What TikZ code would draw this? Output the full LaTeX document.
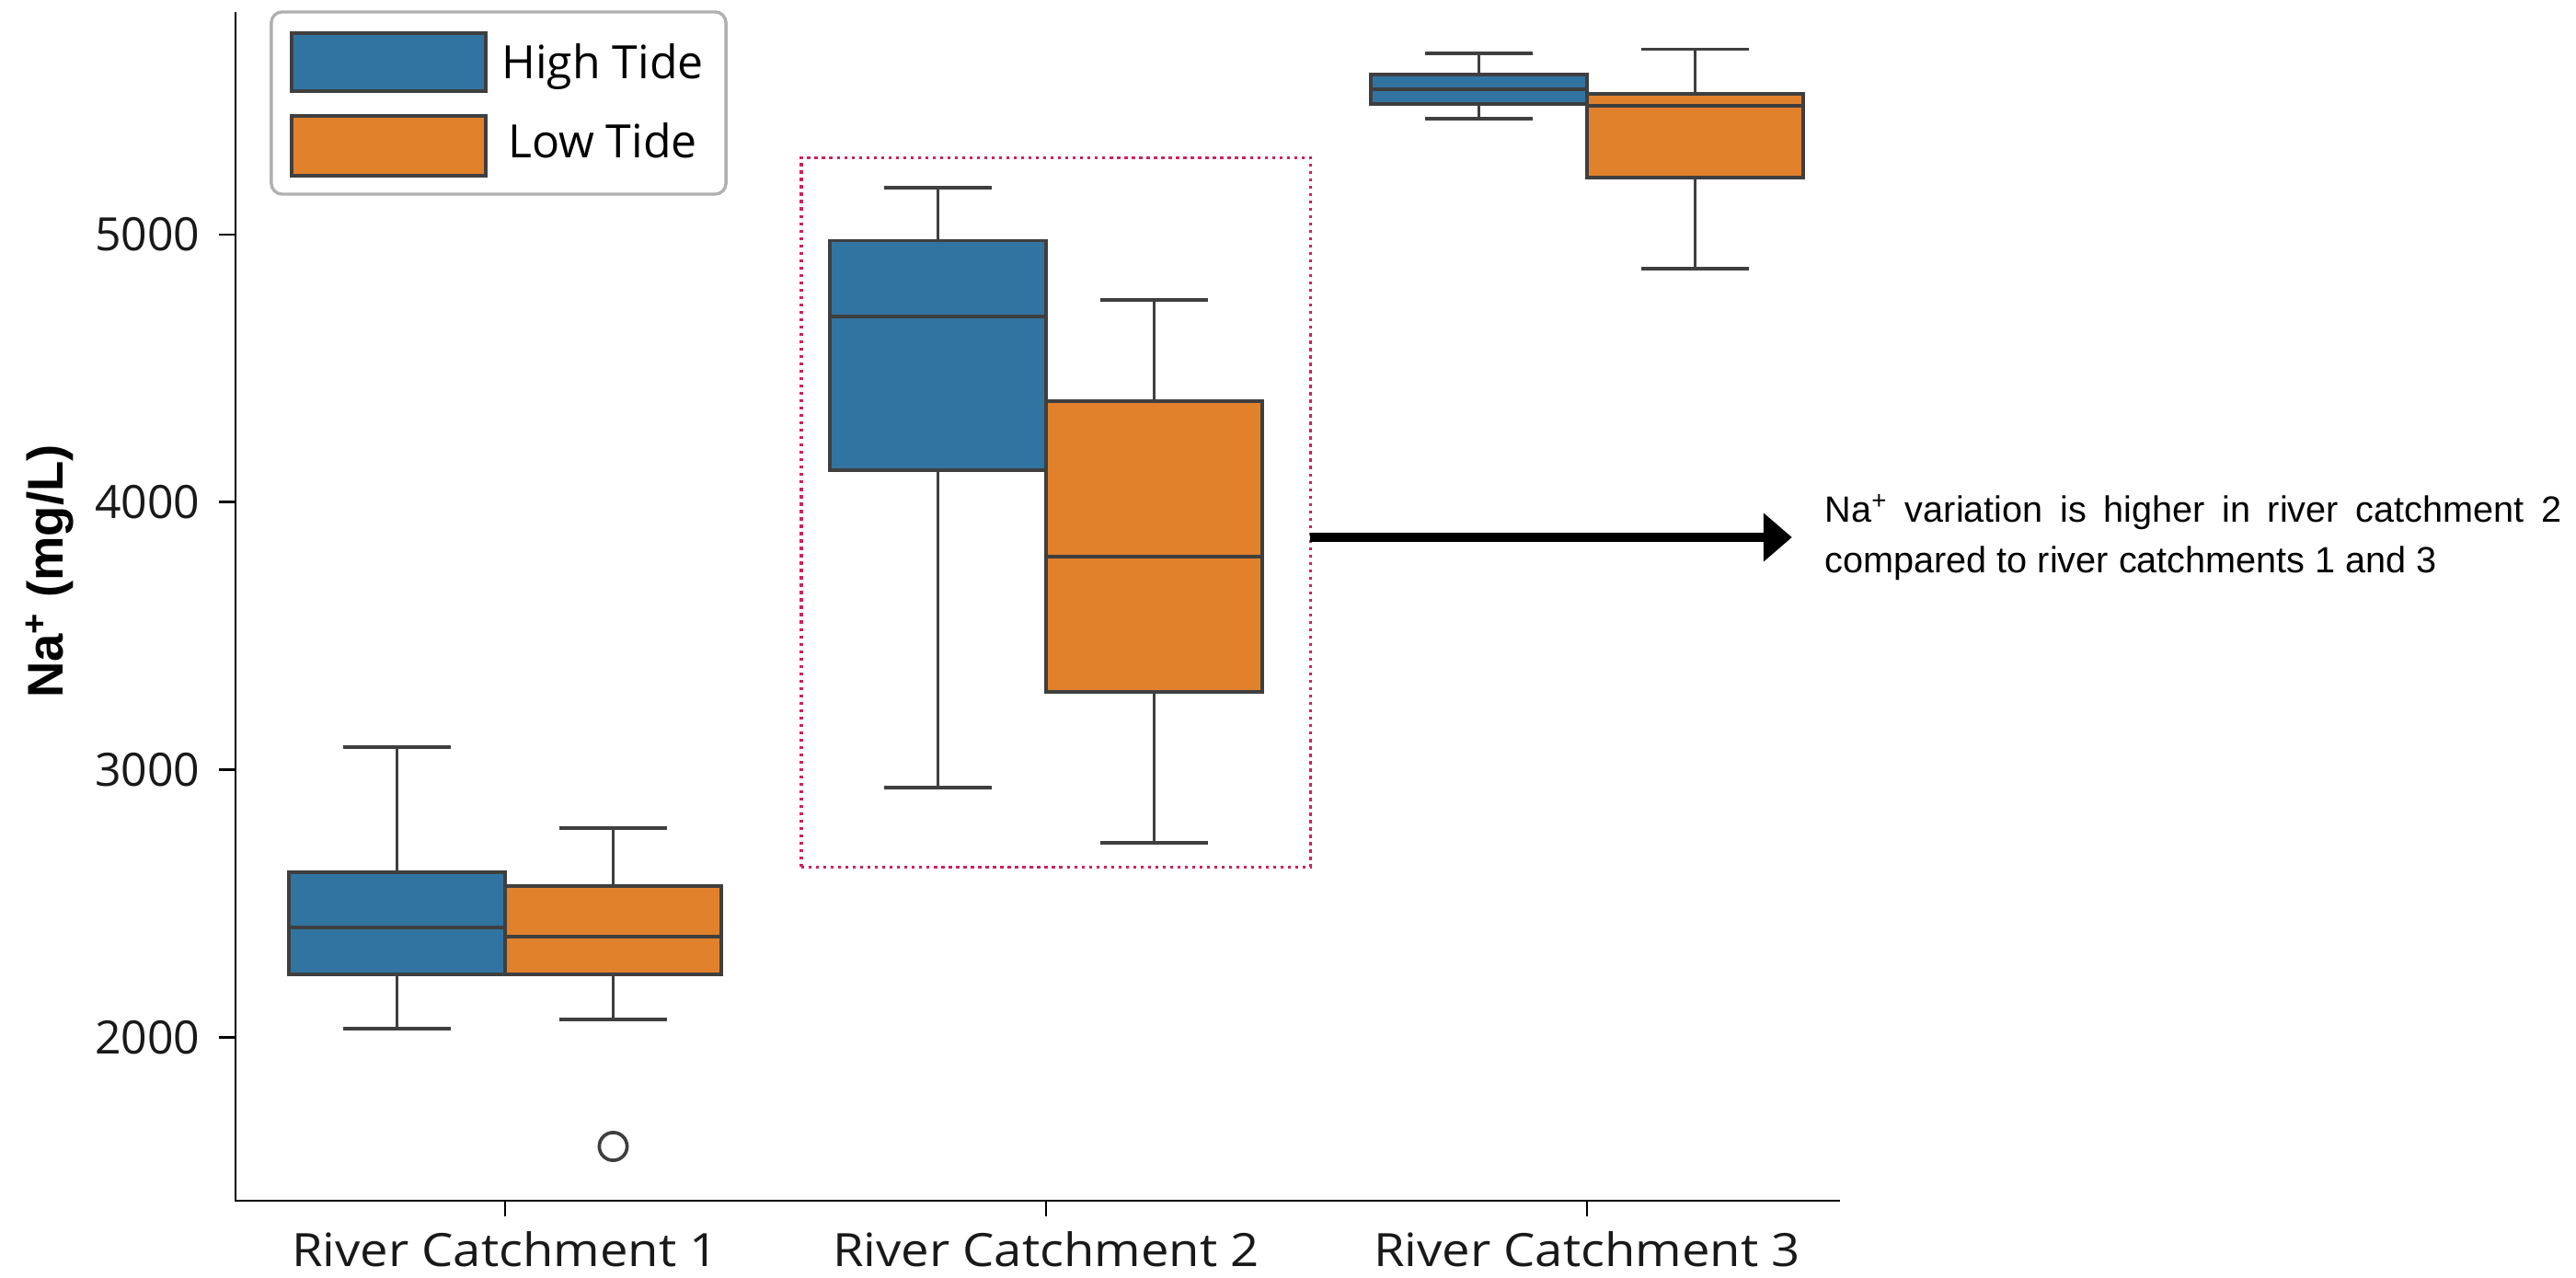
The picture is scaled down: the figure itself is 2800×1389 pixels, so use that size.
\documentclass[tikz,border=0pt]{standalone}
\usepackage{fontspec}
\setmainfont{Open Sans}
\newfontfamily\xlabfont[FakeStretch=1.09]{Open Sans}
\newfontfamily\arialf{Liberation Sans}
\usetikzlibrary{arrows.meta}
\definecolor{sbblue}{HTML}{3274A1}
\definecolor{sborange}{HTML}{E1812C}
\definecolor{edgegray}{HTML}{3F3F3F}
\definecolor{hlred}{RGB}{208,32,96}
\definecolor{leggray}{HTML}{B0B0B0}
\newcommand\bxp[7]{%
  \draw[wline] (#1,#2) -- (#1,#3) (#1,#5) -- (#1,#6);
  \draw[wline] (#1-58.8,#2) -- (#1+58.8,#2) (#1-58.8,#6) -- (#1+58.8,#6);
  \filldraw[wline, fill=#7] (#1-117.5,#3) rectangle (#1+117.5,#5);
  \draw[wline] (#1-117.5,#4) -- (#1+117.5,#4);
}
\begin{document}
\begin{tikzpicture}[x=0.01cm,y=-0.01cm,
  wline/.style={draw=edgegray, line width=1.05pt},
  axisline/.style={draw=black, line width=0.8pt},
  ticklab/.style={inner sep=0pt, font=\fontsize{14.2}{17}\selectfont, text=black!90},
  xlab/.style={inner sep=0pt, font=\xlabfont\fontsize{14.2}{17}\selectfont, text=black!90},
  legpatch/.style={draw=edgegray, line width=1.05pt},
]
\useasboundingbox[fill=white] (0,0) rectangle (2800,1389);

% highlight box
\node[draw=hlred, line width=0.95pt, dash pattern=on 0.95pt off 1.33pt,
      minimum width=5.53cm, minimum height=7.71cm, inner sep=0pt, outer sep=0pt]
      (hl) at (1147.5,557) {};

% boxes
\bxp{431.5}{812}{948}{1008}{1059}{1118}{sbblue}
\bxp{666.5}{900}{963}{1018}{1059}{1108}{sborange}
\draw[wline] (666.5,1246) circle[radius=4.3pt];
\bxp{1019.5}{204}{261.5}{344}{511}{856}{sbblue}
\bxp{1254.5}{326}{436}{605}{752}{916}{sborange}
\bxp{1607.5}{58}{81}{97}{113}{129}{sbblue}
\bxp{1842.5}{53.5}{102}{115}{193}{292}{sborange}

% axes
\draw[axisline] (256,13) -- (256,1305) -- (2000,1305);
\foreach \yy in {255,545.7,836.7,1127.7} \draw[axisline] (238,\yy) -- (256,\yy);
\foreach \xx in {549,1137,1725} \draw[axisline] (\xx,1305) -- (\xx,1322);
\node[ticklab, anchor=east] (y5) at (218,255) {5000};
\node[ticklab, anchor=east] (y4) at (218,545.7) {4000};
\node[ticklab, anchor=east] (y3) at (218,836.7) {3000};
\node[ticklab, anchor=east] (y2) at (218,1127.7) {2000};
\node[xlab, anchor=base] (x1) at (549,1376) {River Catchment 1};
\node[xlab, anchor=base] (x2) at (1137,1376) {River Catchment 2};
\node[xlab, anchor=base] (x3) at (1725,1376) {River Catchment 3};
\node[rotate=90, inner sep=0pt, font=\arialf\bfseries\fontsize{15.5}{18}\selectfont]
  (ylab) at (54,621) {Na\textsuperscript{+} (mg/L)};

% legend
\node[draw=leggray, line width=0.95pt, fill=white, rounded corners=3.4pt,
      minimum width=4.94cm, minimum height=1.98cm, inner sep=0pt] (leg) at (542,112) {};
\filldraw[legpatch, fill=sbblue] (317,36) rectangle (528,99);
\filldraw[legpatch, fill=sborange] (317,126) rectangle (528,191);
\node[ticklab, anchor=base, text=black] (lh) at (655,86) {High Tide};
\node[ticklab, anchor=base, text=black] (ll) at (655,172) {Low Tide};

% annotation
\node[anchor=west, inner sep=0pt, align=left,
      font=\arialf\fontsize{11.27}{15.65}\selectfont] (note) at (1983,584)
  {\makebox[8cm][s]{Na\textsuperscript{+} variation is higher in river catchment 2}\\compared to river catchments 1 and 3};
\draw[line width=2.85pt, -{Triangle[length=8.8pt,width=14.5pt]}, shorten >=10pt]
  (hl.east |- note.west) -- (note.west);
\end{tikzpicture}
\end{document}
